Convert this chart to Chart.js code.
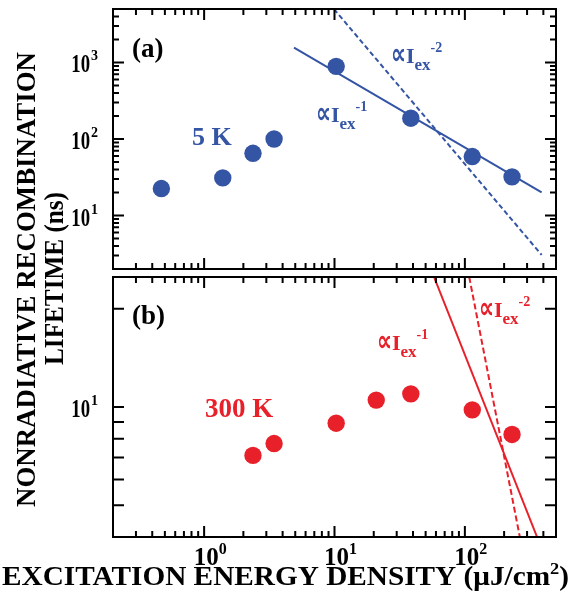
<!DOCTYPE html>
<html>
<head>
<meta charset="utf-8">
<script src="https://cdn.jsdelivr.net/npm/chart.js@4.4.0/dist/chart.umd.min.js"></script>
<style>
  body { margin: 0; background: #fff; }
  #wrap { position: relative; width: 571px; height: 592px; background: #fff; }
  #wrap canvas { position: absolute; left: 0; top: 0; }
</style>
</head>
<body>
<div id="wrap">
  <canvas id="chartTop" width="571" height="592"></canvas>
  <canvas id="chartBottom" width="571" height="592"></canvas>
</div>
<script>
// values
// (a) 5 K
const energy5K = [0.47, 1.39, 2.37, 3.44, 10.3, 38.5, 114, 230];
const lifetime5K = [22.5, 31, 65, 100, 890, 187, 59, 32];
// power law guides, 5 K
const fit5KInvX = [4.89, 388];
const fit5KInvY = [1560, 20.1];
const fit5KInv2X = [9.9, 388];
const fit5KInv2Y = [5000, 3.05];

// (b) 300 K
const energy300K = [2.37, 3.44, 10.3, 20.9, 38.5, 114, 230];
const lifetime300K = [7.11, 7.73, 8.92, 10.5, 10.97, 9.8, 8.24];
// power law guides, 300 K
const fit300KInvX = [58, 358];
const fit300KInvY = [25, 4];
const fit300KInv2X = [108, 264];
const fit300KInv2Y = [25, 4];

// axes
const xMin = 0.2, xMax = 500;
const xMajorTicks = [1, 10, 100];
const xTickExps = ["0", "1", "2"];
const yTopMin = 2, yTopMax = 5000;
const yTopMajorTicks = [10, 100, 1000];
const yTopTickExps = ["1", "2", "3"];
const yBotMin = 4, yBotMax = 25;
const yBotTicks = [5, 6, 7, 8, 9, 10, 20];
const yBotLabelTicks = [10];
const yBotTickExps = ["1"];

const SERIF = "'Liberation Serif', 'Times New Roman', 'DejaVu Serif', serif";
const BLUE = "#3454a4";
const RED = "#e8202a";

function minorTicks(min, max) {
  const out = [];
  for (let d = Math.floor(Math.log10(min)); d <= Math.ceil(Math.log10(max)); d++) {
    for (let m = 2; m <= 9; m++) {
      const v = m * Math.pow(10, d);
      if (v > min * 1.001 && v < max * 0.999) out.push(v);
    }
  }
  return out;
}

function pts(xs, ys) {
  return xs.map((x, i) => ({ x: x, y: ys[i] }));
}

function font(size, family) {
  return "bold " + size + "px " + (family || SERIF);
}

// text pieces drawn one after another: [text, size, dy, family, width]
function drawParts(ctx, x, y, color, parts) {
  ctx.fillStyle = color;
  ctx.textAlign = "left";
  ctx.textBaseline = "alphabetic";
  parts.forEach(p => {
    ctx.font = font(p[1], p[3]);
    const w = ctx.measureText(p[0]).width;
    const target = p[4] || w;
    ctx.save();
    ctx.translate(x, y + p[2]);
    ctx.scale(target / w, 1);
    ctx.fillText(p[0], 0, 0);
    ctx.restore();
    x += target;
  });
}

function propLabel(ctx, x, y, color, exp) {
  drawParts(ctx, x, y, color, [
    ["\u221D", 30, 1, "'DejaVu Sans'", 15],
    ["I", 22, 0],
    ["ex", 17, 7],
    [exp, 14, -11]
  ]);
}

function yTickLabel(ctx, right, py, exp) {
  ctx.save();
  ctx.font = font(14);
  const ws = ctx.measureText(exp).width;
  ctx.font = font(25);
  const w10 = ctx.measureText("10").width * 0.75;
  const x0 = right - ws - w10 - 1;
  drawParts(ctx, x0, py + 10, "#000", [["10", 25, 0, null, w10]]);
  drawParts(ctx, x0 + w10 + 1, py - 2, "#000", [[exp, 14, 0]]);
  ctx.restore();
}

function framePlugin(cfg) {
  return {
    id: "frame",
    afterDraw(chart) {
      const ctx = chart.ctx;
      const a = chart.chartArea;
      const xs = chart.scales.x, ys = chart.scales.y;
      ctx.save();
      ctx.strokeStyle = "#000";
      ctx.lineWidth = 2;
      ctx.beginPath();
      const xt = xMajorTicks.map(v => [v, 11]).concat(minorTicks(xMin, xMax).map(v => [v, 6]));
      xt.forEach(t => {
        const px = xs.getPixelForValue(t[0]);
        ctx.moveTo(px, a.bottom); ctx.lineTo(px, a.bottom - t[1]);
        ctx.moveTo(px, a.top); ctx.lineTo(px, a.top + t[1]);
      });
      cfg.yTicks.forEach(t => {
        const py = ys.getPixelForValue(t[0]);
        ctx.moveTo(a.left, py); ctx.lineTo(a.left + t[1], py);
        ctx.moveTo(a.right, py); ctx.lineTo(a.right - t[1], py);
      });
      ctx.stroke();
      ctx.strokeRect(a.left, a.top, a.right - a.left, a.bottom - a.top);
      ctx.restore();
      ctx.save();
      cfg.yLabels.forEach((v, i) => yTickLabel(ctx, 98, ys.getPixelForValue(v), cfg.yExps[i]));
      cfg.text(ctx, chart);
      ctx.restore();
    }
  };
}

function makeChart(id, cfg) {
  return new Chart(document.getElementById(id), {
    type: "scatter",
    data: { datasets: cfg.datasets },
    options: {
      responsive: false,
      animation: false,
      devicePixelRatio: 1,
      layout: { padding: cfg.padding },
      plugins: { legend: { display: false }, tooltip: { enabled: false } },
      scales: {
        x: { type: "logarithmic", min: xMin, max: xMax, display: false },
        y: { type: "logarithmic", min: cfg.yMin, max: cfg.yMax, display: false }
      }
    },
    plugins: [framePlugin(cfg)]
  });
}

function guide(xs, ys, color, dash, width) {
  return {
    data: pts(xs, ys), showLine: true, pointRadius: 0, borderColor: color,
    borderWidth: width, borderDash: dash, clip: 0
  };
}

function dots(xs, ys, color) {
  return {
    data: pts(xs, ys), showLine: false, pointRadius: 8.7, pointHoverRadius: 8.7,
    backgroundColor: color, borderWidth: 0
  };
}

// top panel (a)
makeChart("chartTop", {
  padding: { left: 113, right: 15, top: 9, bottom: 592 - 269 },
  yMin: yTopMin, yMax: yTopMax,
  yTicks: yTopMajorTicks.map(v => [v, 11]).concat(minorTicks(yTopMin, yTopMax).map(v => [v, 6])),
  yLabels: yTopMajorTicks, yExps: yTopTickExps,
  datasets: [
    dots(energy5K, lifetime5K, BLUE),
    guide(fit5KInvX, fit5KInvY, BLUE, [], 2),
    guide(fit5KInv2X, fit5KInv2Y, BLUE, [5, 3], 2)
  ],
  text(ctx) {
    drawParts(ctx, 132, 57, "#000", [["(a)", 27, 0]]);
    drawParts(ctx, 192, 145, BLUE, [["5 K", 26, 0]]);
    propLabel(ctx, 391, 63, BLUE, "-2");
    propLabel(ctx, 316, 122, BLUE, "-1");
  }
});

// bottom panel (b)
makeChart("chartBottom", {
  padding: { left: 113, right: 15, top: 277, bottom: 592 - 537 },
  yMin: yBotMin, yMax: yBotMax,
  yTicks: yBotTicks.map(v => [v, 11]),
  yLabels: yBotLabelTicks, yExps: yBotTickExps,
  datasets: [
    dots(energy300K, lifetime300K, RED),
    guide(fit300KInvX, fit300KInvY, RED, [], 2),
    guide(fit300KInv2X, fit300KInv2Y, RED, [6, 3], 2)
  ],
  text(ctx, chart) {
    drawParts(ctx, 132, 324, "#000", [["(b)", 27, 0]]);
    drawParts(ctx, 205, 417, RED, [["300 K", 27, 0]]);
    propLabel(ctx, 377, 350, RED, "-1");
    propLabel(ctx, 479, 317, RED, "-2");

    // x tick labels
    const xs = chart.scales.x;
    xMajorTicks.forEach((v, i) => {
      const px = xs.getPixelForValue(v);
      ctx.font = font(25);
      const w = ctx.measureText("10").width;
      drawParts(ctx, px - w / 2 + 2, 565, "#000", [["10", 25, 0], [xTickExps[i], 16, -11]]);
    });

    // x title, squeezed to the width of the figure
    ctx.save();
    ctx.fillStyle = "#000";
    const t1 = "EXCITATION ENERGY DENSITY (\u03BCJ/cm";
    ctx.font = font(27);
    const w1 = ctx.measureText(t1).width;
    ctx.font = font(17);
    const w2 = ctx.measureText("2").width;
    ctx.font = font(27);
    const w3 = ctx.measureText(")").width;
    const sx = 567 / (w1 + w2 + w3);
    ctx.translate(2, 585);
    ctx.scale(sx, 1);
    ctx.textAlign = "left";
    ctx.fillText(t1, 0, 0);
    ctx.font = font(17);
    ctx.fillText("2", w1, -11);
    ctx.font = font(27);
    ctx.fillText(")", w1 + w2, 0);
    ctx.restore();

    // y title, two rotated lines
    const yTitle = [["NONRADIATIVE RECOMBINATION", 35, 279.5, 455], ["LIFETIME (ns)", 63, 278.5, 173]];
    yTitle.forEach(l => {
      ctx.save();
      ctx.fillStyle = "#000";
      ctx.font = font(27);
      const w = ctx.measureText(l[0]).width;
      ctx.translate(l[1], l[2]);
      ctx.rotate(-Math.PI / 2);
      ctx.scale(l[3] / w, 1);
      ctx.textAlign = "center";
      ctx.fillText(l[0], 0, 0);
      ctx.restore();
    });
  }
});
</script>
</body>
</html>
